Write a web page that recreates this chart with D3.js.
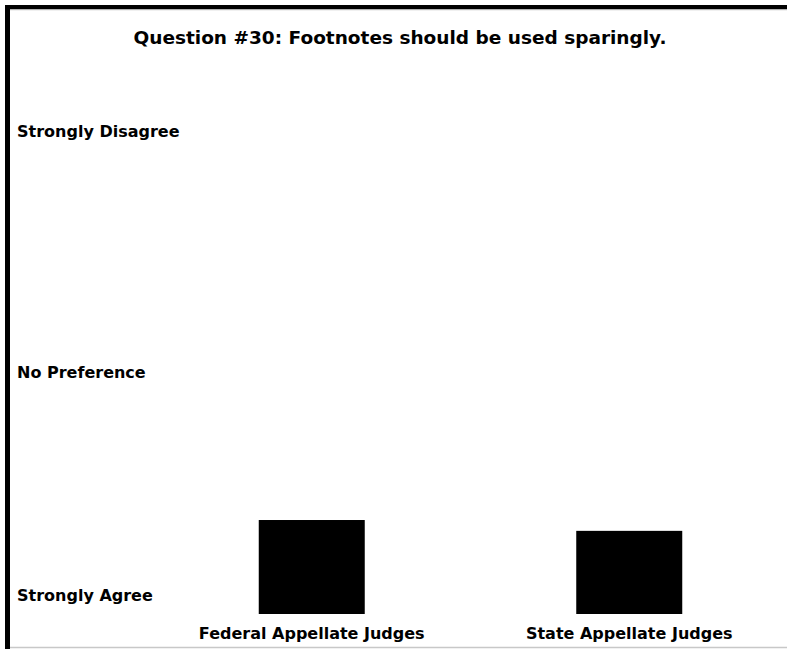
<!DOCTYPE html>
<html>
<head>
<meta charset="utf-8">
<script src="https://cdn.jsdelivr.net/npm/d3@7/dist/d3.min.js"></script>
<style>
  html, body { margin: 0; padding: 0; background: #fff; }
  svg { display: block; }
  text { font-family: Verdana, "DejaVu Sans", sans-serif; font-weight: bold; fill: #000; }
</style>
</head>
<body>
<svg id="chart" width="787" height="649"></svg>
<script>
const title = "Question #30: Footnotes should be used sparingly.";
const categories = ["Federal Appellate Judges", "State Appellate Judges"];
const values = [1.78, 1.69];
const tickValues = [5, 3, 1];
const tickLabels = ["Strongly Disagree", "No Preference", "Strongly Agree"];

const W = 787, H = 649;
const svg = d3.select("#chart");

// frame
svg.append("rect").attr("x", 5).attr("y", 5).attr("width", 5).attr("height", H - 5).attr("fill", "#000");
svg.append("rect").attr("x", 5).attr("y", 5).attr("width", W - 5).attr("height", 4.5).attr("fill", "#000");
svg.append("line").attr("x1", 10).attr("x2", W).attr("y1", 10).attr("y2", 10).attr("stroke", "#e2e2e2").attr("stroke-width", 1);
svg.append("line").attr("x1", 10).attr("x2", W).attr("y1", 647.5).attr("y2", 647.5).attr("stroke", "#c8c8c8").attr("stroke-width", 1.5);

// title
svg.append("text").attr("x", 400).attr("y", 44).attr("text-anchor", "middle")
  .style("font-size", "18.5px").text(title);

const y = d3.scaleLinear().domain([1, 5]).range([614, 132]);
const x = d3.scalePoint().domain(categories).range([153, 788]).padding(0.5);
const barW = 106;

// y labels
svg.append("g").selectAll("text").data(tickValues).join("text")
  .attr("x", 17)
  .attr("y", d => Math.min(y(d), 596) + 5)
  .style("font-size", "16px")
  .text((d, i) => tickLabels[i]);

// bars
svg.append("g").selectAll("rect").data(values).join("rect")
  .attr("x", (d, i) => x(categories[i]) - barW / 2)
  .attr("y", d => y(d))
  .attr("width", barW)
  .attr("height", d => y(1) - y(d))
  .attr("fill", "#000");

// category labels
svg.append("g").selectAll("text").data(categories).join("text")
  .attr("x", d => x(d))
  .attr("y", 638.5)
  .attr("text-anchor", "middle")
  .style("font-size", "16px")
  .text(d => d);
</script>
</body>
</html>
